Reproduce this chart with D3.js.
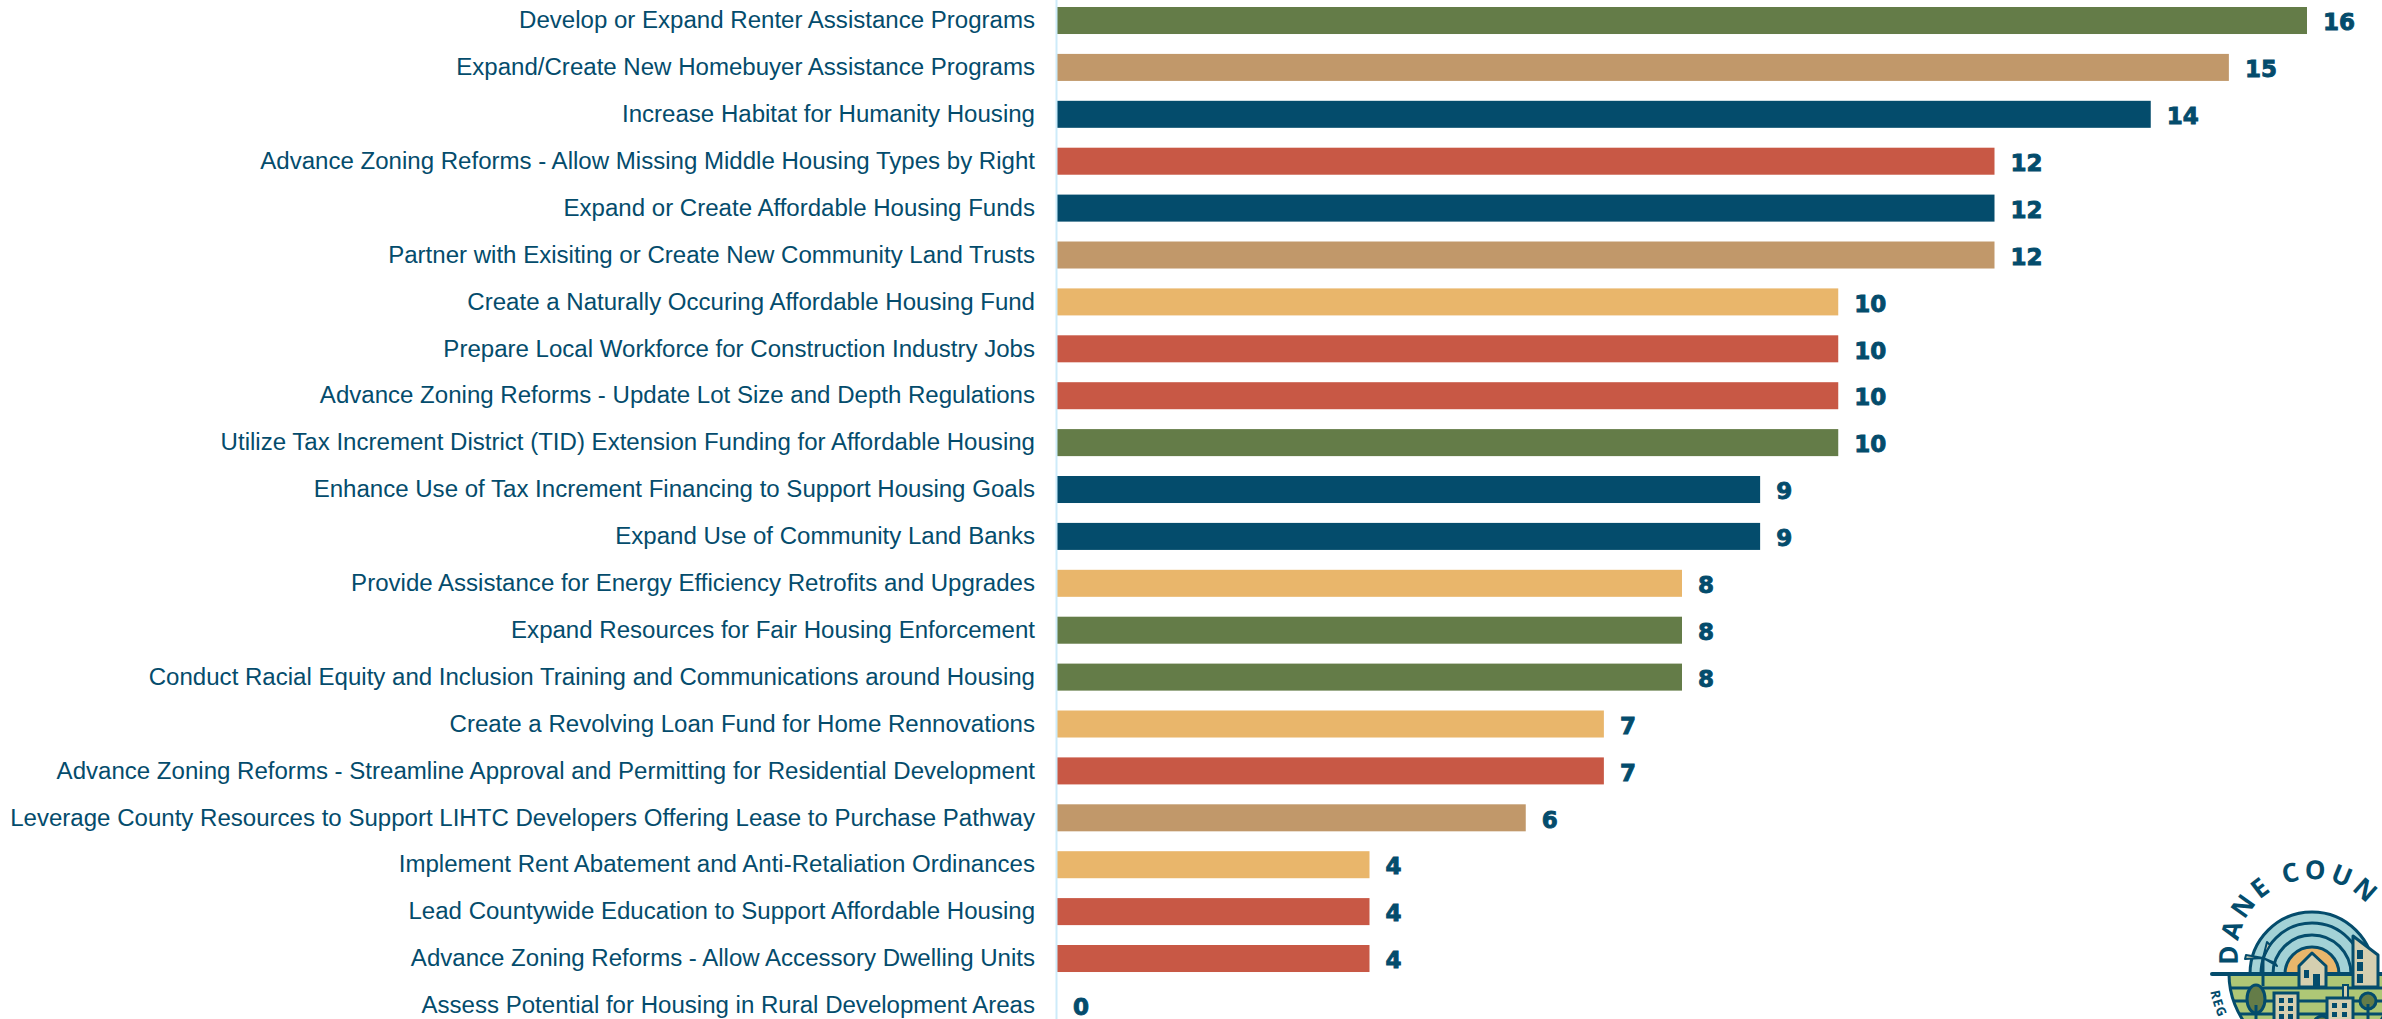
<!DOCTYPE html>
<html><head><meta charset="utf-8">
<script src="https://cdn.jsdelivr.net/npm/d3@7/dist/d3.min.js"></script>
<style>html,body{margin:0;padding:0;background:#fff;overflow:hidden}svg{display:block}</style>
</head><body><svg id="chart" width="2382" height="1019"></svg>
<script>
const categories = [
"Develop or Expand Renter Assistance Programs",
"Expand/Create New Homebuyer Assistance Programs",
"Increase Habitat for Humanity Housing",
"Advance Zoning Reforms - Allow Missing Middle Housing Types by Right",
"Expand or Create Affordable Housing Funds",
"Partner with Exisiting or Create New Community Land Trusts",
"Create a Naturally Occuring Affordable Housing Fund",
"Prepare Local Workforce for Construction Industry Jobs",
"Advance Zoning Reforms - Update Lot Size and Depth Regulations",
"Utilize Tax Increment District (TID) Extension Funding for Affordable Housing",
"Enhance Use of Tax Increment Financing to Support Housing Goals",
"Expand Use of Community Land Banks",
"Provide Assistance for Energy Efficiency Retrofits and Upgrades",
"Expand Resources for Fair Housing Enforcement",
"Conduct Racial Equity and Inclusion Training and Communications around Housing",
"Create a Revolving Loan Fund for Home Rennovations",
"Advance Zoning Reforms - Streamline Approval and Permitting for Residential Development",
"Leverage County Resources to Support LIHTC Developers Offering Lease to Purchase Pathway",
"Implement Rent Abatement and Anti-Retaliation Ordinances",
"Lead Countywide Education to Support Affordable Housing",
"Advance Zoning Reforms - Allow Accessory Dwelling Units",
"Assess Potential for Housing in Rural Development Areas"];
const values = [16,15,14,12,12,12,10,10,10,10,9,9,8,8,8,7,7,6,4,4,4,0];
const groups = ["green","tan","navy","red","navy","tan","yellow","red","red","green","navy","navy","yellow","green","green","yellow","red","tan","yellow","red","red","yellow"];
const palette = {green:"#647C48",tan:"#C1986A",navy:"#044C6C",red:"#C85845",yellow:"#E9B66B"};
const NAVY = palette.navy;

const svg = d3.select("#chart");
const x = d3.scaleLinear().domain([0,16]).range([1057,2307]);
const step = 46.9;
const y = d3.scaleBand().domain(categories).range([-2.94,-2.94+step*22]).paddingInner(0.424).paddingOuter(0.212);
const color = d3.scaleOrdinal().domain(Object.keys(palette)).range(Object.values(palette));

svg.append("g").selectAll("rect").data(categories).join("rect")
  .attr("x",x(0)).attr("y",d=>y(d))
  .attr("width",(d,i)=>x(values[i])-x(0)).attr("height",y.bandwidth())
  .attr("fill",(d,i)=>color(groups[i]));

const axis = svg.append("g").attr("transform",`translate(${x(0)-1},0)`)
  .call(d3.axisLeft(y).tickSize(0).tickPadding(21));
axis.select(".domain").attr("stroke","#CDEBFA").attr("stroke-width",2);
axis.selectAll("text").attr("font-family","'Liberation Sans',Arial,sans-serif").attr("font-size",24.05).attr("fill",NAVY);

svg.append("g").selectAll("text").data(categories).join("text")
  .attr("x",(d,i)=>x(values[i])+16).attr("y",d=>y(d)+y.bandwidth()/2).attr("dy",9.7)
  .attr("font-family","'DejaVu Sans',sans-serif").attr("font-weight","bold").attr("font-size",23)
  .attr("fill",NAVY).attr("stroke",NAVY).attr("stroke-width",0.9)
  .text((d,i)=>values[i]);

// Logo (decoration)
const logo = svg.append("g").attr("id","logo");
const cx=2312, cy=974;
const ln = {stroke:NAVY,"stroke-width":3,fill:"none"};
const apply=(s,o)=>{for(const k in o)s.attr(k,o[k]);return s;};
const defs=svg.append("defs");
defs.append("clipPath").attr("id","ground").append("path").attr("d",d3.arc()({innerRadius:0,outerRadius:83,startAngle:Math.PI/2,endAngle:3*Math.PI/2})).attr("transform",`translate(${cx},${cy})`);
defs.append("path").attr("id","topArc").attr("d",`M ${cx+74*Math.cos(Math.PI*1.04)} ${cy+74*Math.sin(Math.PI*1.04)} A 74 74 0 1 1 ${cx+74*Math.cos(Math.PI*1.95)} ${cy+74*Math.sin(Math.PI*1.95)}`);
defs.append("path").attr("id","lowArc").attr("d",`M ${cx-103*Math.cos(0.17)} ${cy+103*Math.sin(0.17)} A 103 103 0 0 0 ${cx+103*Math.cos(0.17)} ${cy+103*Math.sin(0.17)}`);

// rainbow & sun
[[62,"#A3D2D6"],[51,"#A3D2D6"],[39,"#A3D2D6"],[27,"#E9B66B"]].forEach(([r,f])=>{
  logo.append("path").attr("transform",`translate(${cx},${cy})`)
    .attr("d",d3.arc()({innerRadius:0,outerRadius:r,startAngle:-Math.PI/2,endAngle:Math.PI/2}))
    .attr("fill",f).attr("stroke",NAVY).attr("stroke-width",3);
});
// ground
const g = logo.append("g");
const gc = g.append("g").attr("clip-path","url(#ground)");
gc.append("rect").attr("x",2225).attr("y",974).attr("width",170).attr("height",90).attr("fill","#AEC776");
[988,1001,1014].forEach(v=>apply(gc.append("line").attr("x1",2225).attr("x2",2400).attr("y1",v).attr("y2",v),ln));
g.append("path").attr("transform",`translate(${cx},${cy})`)
  .attr("d",d3.arc()({innerRadius:83,outerRadius:83,startAngle:Math.PI/2,endAngle:3*Math.PI/2})).attr("stroke",NAVY).attr("stroke-width",3).attr("fill","none");
logo.append("line").attr("x1",2212).attr("x2",2382).attr("y1",974).attr("y2",974).attr("stroke",NAVY).attr("stroke-width",4).attr("stroke-linecap","round");

const bld="#D5CFB0";
// windmill
apply(logo.append("line").attr("x1",2263).attr("x2",2263).attr("y1",958).attr("y2",986),{stroke:NAVY,"stroke-width":3});
logo.append("path").attr("d","M2263 958 L2270 945 L2267 942 Z M2263 958 L2245 959 L2246 955 Z M2263 958 L2277 966 L2275 963 Z").attr("fill",bld).attr("stroke",NAVY).attr("stroke-width",2).attr("stroke-linejoin","round");
// house
logo.append("path").attr("d","M2299 987 V966 L2312 953 L2326 966 V987 Z").attr("fill",bld).attr("stroke",NAVY).attr("stroke-width",3).attr("stroke-linejoin","round");
logo.append("rect").attr("x",2304).attr("y",970).attr("width",5).attr("height",8).attr("fill",NAVY);
logo.append("rect").attr("x",2313).attr("y",974).attr("width",7).attr("height",13).attr("fill",NAVY);
// tall building
logo.append("path").attr("d","M2353 987 V936 L2378 955 V987 Z").attr("fill",bld).attr("stroke",NAVY).attr("stroke-width",3).attr("stroke-linejoin","round");
[950,962,974].forEach(v=>logo.append("rect").attr("x",2357).attr("y",v).attr("width",6).attr("height",9).attr("fill",NAVY));
// left tree
logo.append("ellipse").attr("cx",2256).attr("cy",999).attr("rx",9).attr("ry",14).attr("fill","#647C48").attr("stroke",NAVY).attr("stroke-width",3);
logo.append("line").attr("x1",2256).attr("x2",2256).attr("y1",1005).attr("y2",1019).attr("stroke",NAVY).attr("stroke-width",3);
// right tree
logo.append("circle").attr("cx",2368).attr("cy",1001).attr("r",8).attr("fill","#647C48").attr("stroke",NAVY).attr("stroke-width",3);
logo.append("line").attr("x1",2368).attr("x2",2368).attr("y1",1004).attr("y2",1019).attr("stroke",NAVY).attr("stroke-width",3);
// small tree
logo.append("circle").attr("cx",2322).attr("cy",1024).attr("r",8).attr("fill","#647C48").attr("stroke",NAVY).attr("stroke-width",3);
// left block
logo.append("rect").attr("x",2274).attr("y",993).attr("width",24).attr("height",30).attr("fill",bld).attr("stroke",NAVY).attr("stroke-width",3);
[[2279,998],[2288,998],[2279,1006],[2288,1006],[2279,1014],[2288,1014]].forEach(([a,b])=>logo.append("rect").attr("x",a).attr("y",b).attr("width",5).attr("height",5).attr("fill",NAVY));
// right block
logo.append("rect").attr("x",2343).attr("y",985).attr("width",5).attr("height",14).attr("fill",bld).attr("stroke",NAVY).attr("stroke-width",2);
logo.append("rect").attr("x",2327).attr("y",998).attr("width",26).attr("height",25).attr("fill",bld).attr("stroke",NAVY).attr("stroke-width",3);
[[2332,1003],[2342,1003],[2332,1012],[2342,1012]].forEach(([a,b])=>logo.append("rect").attr("x",a).attr("y",b).attr("width",5).attr("height",5).attr("fill",NAVY));
// arc text
logo.append("text").attr("font-family","'Open Sans',sans-serif").attr("font-weight","bold").attr("font-size",26).attr("fill",NAVY).attr("letter-spacing",4)
  .append("textPath").attr("href","#topArc").text("DANE COUN");
logo.append("text").attr("font-family","'Open Sans',sans-serif").attr("font-weight","bold").attr("font-size",13).attr("fill",NAVY).attr("letter-spacing",1)
  .append("textPath").attr("href","#lowArc").text("REG");
</script></body></html>
